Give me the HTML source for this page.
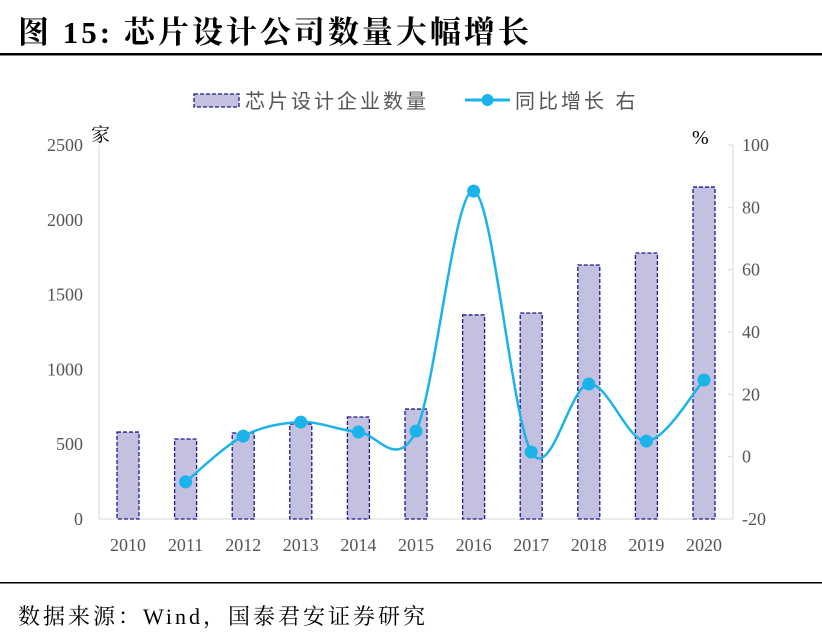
<!DOCTYPE html>
<html><head><meta charset="utf-8"><style>
body{margin:0;background:#fff;width:822px;height:638px;overflow:hidden}
</style></head><body>
<svg width="822" height="638" viewBox="0 0 822 638" xmlns="http://www.w3.org/2000/svg" style="font-family:'Liberation Serif','Noto Serif CJK SC',serif">
<text x="18" y="43" font-size="31" font-weight="bold" fill="#000" letter-spacing="3">图 15:  芯片设计公司数量大幅增长</text>
<rect x="0" y="53" width="822" height="2.5" fill="#000"/>
<g>
<rect x="194" y="94" width="45" height="13" fill="#c3c0e0" stroke="#1a1a8a" stroke-dasharray="4,2" stroke-width="1.3"/>
<text x="245" y="108" font-size="20" fill="#555" letter-spacing="3" font-family="'Liberation Sans','Noto Sans CJK SC',sans-serif">芯片设计企业数量</text>
<line x1="465" y1="100" x2="510" y2="100" stroke="#1ab3ea" stroke-width="3"/>
<circle cx="487.5" cy="100" r="6" fill="#1ab3ea"/>
<text x="515" y="108" font-size="20" fill="#555" letter-spacing="3" font-family="'Liberation Sans','Noto Sans CJK SC',sans-serif">同比增长 右</text>
</g>
<text x="91" y="141" font-size="19" fill="#000">家</text>
<text x="692" y="144" font-size="20" fill="#000">%</text>
<g id="plot"></g>
<rect x="0" y="582" width="822" height="1.5" fill="#000"/>
<text x="18" y="624" font-size="22" fill="#000" letter-spacing="3">数据来源：Wind，国泰君安证券研究</text>
</svg>
<script>
const years=["2010","2011","2012","2013","2014","2015","2016","2017","2018","2019","2020"];
const counts=[581,535,575,635,682,735,1364,1377,1698,1778,2219];
const growth=[null,-8.1,6.6,11.1,7.9,8.2,85.2,1.5,23.3,5.0,24.6];
const leftTicks=[0,500,1000,1500,2000,2500];
const rightTicks=[-20,0,20,40,60,80,100];
const NS="http://www.w3.org/2000/svg";
const g=document.getElementById('plot');
const plotTop=145,plotBot=519,x0=128,dx=57.6;
const xPos=i=>x0+i*dx;
const yL=v=>plotBot-(v/2500)*(plotBot-plotTop);
const yR=v=>plotBot-((v+20)/120)*(plotBot-plotTop);
function mk(t,a){const e=document.createElementNS(NS,t);for(const k in a)e.setAttribute(k,a[k]);g.appendChild(e);return e;}
let ax=mk('line',{x1:99,y1:plotTop,x2:99,y2:plotBot,stroke:'#d9d9d9'});


let bx=mk('line',{x1:99,y1:plotBot,x2:733,y2:plotBot,stroke:'#d9d9d9'});


let rx=mk('line',{x1:733,y1:plotTop,x2:733,y2:plotBot,stroke:'#d9d9d9'});


leftTicks.forEach(v=>{const t=mk('text',{x:83,y:yL(v)+6,'font-size':18,fill:'#555','text-anchor':'end'});t.textContent=v;

});
rightTicks.forEach(v=>{mk('line',{x1:728,y1:yR(v),x2:733,y2:yR(v),stroke:'#d9d9d9'});const t=mk('text',{x:742,y:yR(v)+6,'font-size':18,fill:'#555'});t.textContent=v;

});
years.forEach((y,i)=>{const t=mk('text',{x:xPos(i),y:551,'font-size':18,fill:'#555','text-anchor':'middle'});t.textContent=y;

});
counts.forEach((v,i)=>{const r=mk('rect',{x:xPos(i)-11,y:yL(v),width:22,height:plotBot-yL(v),fill:'#c3c0e0',stroke:'#1a1a8a','stroke-width':1.3,'stroke-dasharray':'4,2'});

});
const pts=[];growth.forEach((v,i)=>{if(v!==null)pts.push([xPos(i),yR(v)]);});
let d='M'+pts[0][0]+','+pts[0][1];
for(let i=0;i<pts.length-1;i++){const p0=pts[Math.max(0,i-1)],p1=pts[i],p2=pts[i+1],p3=pts[Math.min(pts.length-1,i+2)];const k=1/6;
d+=` C${p1[0]+(p2[0]-p0[0])*k},${p1[1]+(p2[1]-p0[1])*k} ${p2[0]-(p3[0]-p1[0])*k},${p2[1]-(p3[1]-p1[1])*k} ${p2[0]},${p2[1]}`;}
const ln=mk('path',{d:d,fill:'none',stroke:'#1ab3ea','stroke-width':2.5});


growth.forEach((v,i)=>{if(v===null)return;const c=mk('circle',{cx:xPos(i),cy:yR(v),r:6.5,fill:'#1ab3ea'});

});
</script>
</body></html>
